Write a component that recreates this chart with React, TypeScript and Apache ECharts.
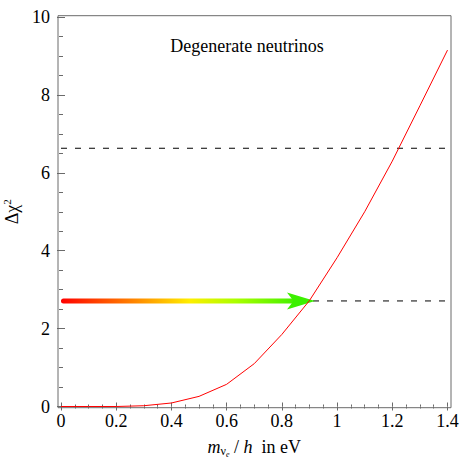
import React, { useEffect, useRef } from "react";
import * as echarts from "echarts";

// Data
const massValues = [0, 0.1, 0.2, 0.3, 0.4, 0.5, 0.6, 0.7, 0.8, 0.9, 1.0, 1.1, 1.2, 1.3, 1.4];
const deltaChi2 = [0, 0, 0, 0.02, 0.09, 0.26, 0.57, 1.1, 1.85, 2.72, 3.82, 5.0, 6.3, 7.72, 9.15];
const cl90 = 2.71;
const cl99 = 6.63;
const arrowStart = 0;
const arrowEnd = 0.92;
const chartLabel = "Degenerate neutrinos";

const FONT = "Liberation Serif";
const GRAY = "#6a6a6a";

export default function App() {
  const ref = useRef<HTMLDivElement>(null);
  useEffect(() => {
    if (!ref.current) return;
    const chart = echarts.init(ref.current, undefined, { renderer: "svg" });

    const axisCommon = {
      axisLine: { show: false },
      axisTick: { show: true, inside: true, length: 4, lineStyle: { color: GRAY, width: 1 } },
      minorTick: { show: true, splitNumber: 4, length: 2, lineStyle: { color: GRAY, width: 1 } },
      splitLine: { show: false },
    };

    const option: any = {
      animation: false,
      backgroundColor: "#ffffff",
      textStyle: { fontFamily: FONT },
      grid: {
        left: 61,
        right: 15.5,
        top: 17,
        bottom: 56.5,
        containLabel: false,
        outerBoundsMode: "none",
      },
      graphic: [
        {
          type: "rect",
          shape: { x: 58, y: 15.7, width: 393, height: 392 },
          style: { fill: "none", stroke: GRAY, lineWidth: 1 },
          z: 10,
          silent: true,
        },
        {
          type: "text",
          x: 247,
          y: 46,
          style: {
            text: chartLabel,
            fontFamily: FONT,
            fontSize: 18,
            fill: "#000",
            align: "center",
            verticalAlign: "middle",
          },
        },
      ],
      xAxis: [
        {
          type: "value",
          position: "bottom",
          min: 0,
          max: 1.4,
          interval: 0.2,
          offset: 1.2,
          ...axisCommon,
          axisLabel: { color: "#000", fontFamily: FONT, fontSize: 18, margin: 4 },
          name: "{i|m}{s|ν}{ss|e}{n| / }{i|h}{n|  in eV}",
          nameLocation: "middle",
          nameGap: 27,
          nameTextStyle: {
            fontFamily: FONT,
            fontSize: 18,
            color: "#000",
            rich: {
              i: { fontFamily: FONT, fontSize: 18, fontStyle: "italic", color: "#000" },
              n: { fontFamily: FONT, fontSize: 18, color: "#000" },
              s: { fontFamily: FONT, fontSize: 12, color: "#000", padding: [8, 0, 0, 0] },
              ss: { fontFamily: FONT, fontSize: 8, fontStyle: "italic", color: "#000", padding: [16, 0, 0, 0] },
            },
          },
        },
        {
          type: "value",
          position: "top",
          min: 0,
          max: 1.4,
          interval: 0.2,
          offset: 1.3,
          ...axisCommon,
          axisLabel: { show: false },
        },
      ],
      yAxis: [
        {
          type: "value",
          position: "left",
          min: 0,
          max: 10,
          interval: 2,
          offset: 3,
          ...axisCommon,
          axisLabel: { color: "#000", fontFamily: FONT, fontSize: 18, margin: 8 },
          name: "{n|Δχ}{sup|2}",
          nameLocation: "middle",
          nameRotate: 90,
          nameGap: 35,
          nameTextStyle: {
            fontFamily: FONT,
            fontSize: 18,
            color: "#000",
            rich: {
              n: { fontFamily: FONT, fontSize: 18, color: "#000" },
              sup: { fontFamily: FONT, fontSize: 11, color: "#000", padding: [0, 0, 10, 0] },
            },
          },
        },
        {
          type: "value",
          position: "right",
          min: 0,
          max: 10,
          interval: 2,
          offset: 3.5,
          ...axisCommon,
          axisLabel: { show: false },
        },
      ],
      series: [
        {
          type: "line",
          data: [[0, cl99], [1.4, cl99]],
          showSymbol: false,
          lineStyle: { color: "#000", width: 1, type: [6, 8] },
          z: 2,
          silent: true,
        },
        {
          type: "line",
          data: [[0, cl90], [1.4, cl90]],
          showSymbol: false,
          lineStyle: { color: "#000", width: 1, type: [6, 8] },
          z: 2,
          silent: true,
        },
        {
          type: "custom",
          data: [[arrowStart, arrowEnd, cl90]],
          encode: { x: [0, 1], y: 2 },
          clip: false,
          z: 3,
          renderItem: (params: any, api: any) => {
            const s = api.coord([api.value(0), api.value(2)]);
            const e = api.coord([api.value(1), api.value(2)]);
            const headLen = 28;
            const headHalf = 8.5;
            const notch = 6.5;
            const shaftEnd = e[0] - headLen + notch + 1;
            return {
              type: "group",
              children: [
                {
                  type: "rect",
                  shape: { x: s[0], y: s[1] - 2.5, width: shaftEnd - s[0], height: 5, r: 2.5 },
                  style: {
                    fill: new echarts.graphic.LinearGradient(0, 0, 1, 0, [
                      { offset: 0, color: "#ff0000" },
                      { offset: 0.3, color: "#ff8000" },
                      { offset: 0.55, color: "#ffee00" },
                      { offset: 0.75, color: "#aaff00" },
                      { offset: 1, color: "#44f000" },
                    ]),
                  },
                },
                {
                  type: "polygon",
                  shape: {
                    points: [
                      [e[0], e[1]],
                      [e[0] - headLen, e[1] - headHalf],
                      [e[0] - headLen + notch, e[1]],
                      [e[0] - headLen, e[1] + headHalf],
                    ],
                  },
                  style: { fill: "#3cf000" },
                },
              ],
            };
          },
        },
        {
          type: "line",
          data: massValues.map((m, i) => [m, deltaChi2[i]]),
          showSymbol: false,
          lineStyle: { color: "#ff0000", width: 1 },
          z: 5,
          silent: true,
        },
      ],
    };

    chart.setOption(option);
    return () => chart.dispose();
  }, []);

  return (
    <div
      ref={ref}
      style={{ position: "fixed", left: 0, top: 0, width: 463, height: 463, background: "#fff" }}
    />
  );
}
